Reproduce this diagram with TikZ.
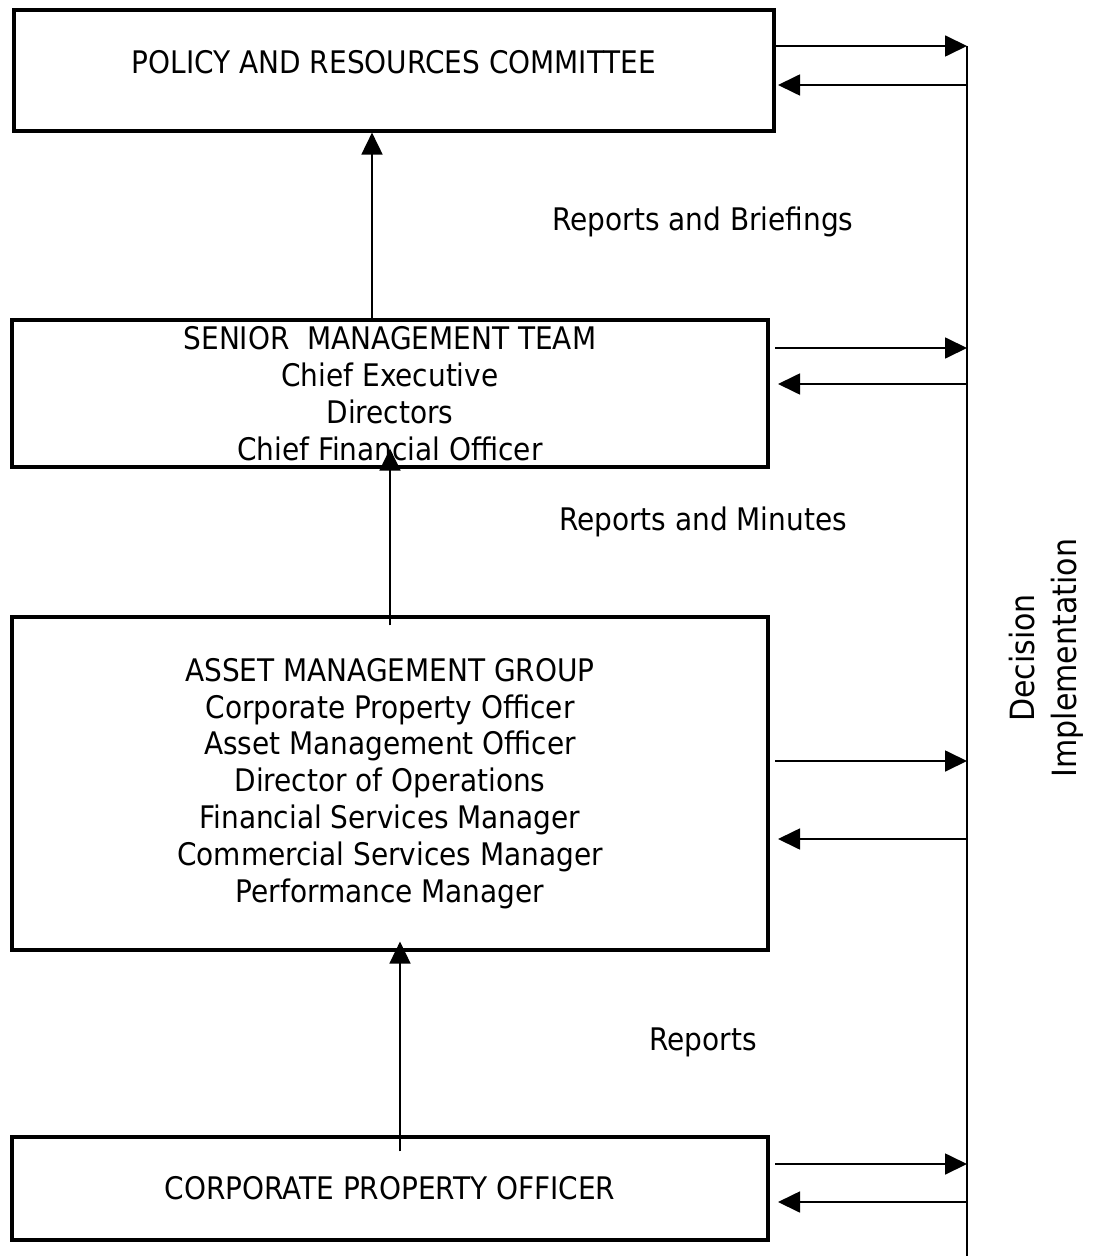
\documentclass[tikz,border=0pt]{standalone}
\usepackage{fontspec}
\setmainfont{DejaVu Sans Condensed}
\usepackage{tikz}
\usetikzlibrary{arrows.meta,positioning}

\tikzset{
  box/.style={draw,line width=1.8pt,align=center,inner sep=0pt},
  arr/.style={line width=1pt,-{Triangle[length=0.44cm,width=0.42cm]}},
  bar/.style={line width=1pt},
  lbl/.style={inner sep=0pt}
}

\begin{document}
\begin{tikzpicture}[x=0.02cm,y=-0.02cm,font=\fontsize{17.7}{21}\selectfont]
  \useasboundingbox (0,0) rectangle (1098,1256);
  % --- Boxes ---
  \node[box,minimum width=760*0.02cm,minimum height=121*0.02cm] (prc) at (394,70.5) {\raisebox{0.36cm}{POLICY AND RESOURCES COMMITTEE}};
  \node[box,minimum width=756*0.02cm,minimum height=147*0.02cm] (smt) at (390,393.5)
    {SENIOR\ \ MANAGEMENT TEAM\\Chief Executive\\Directors\\Chief Financial Officer};
  \node[box,minimum width=756*0.02cm,minimum height=333*0.02cm] (amg) at (390,783.5)
    {ASSET MANAGEMENT GROUP\\Corporate Property Officer\\Asset Management Officer\\Director of Operations\\Financial Services Manager\\Commercial Services Manager\\Performance Manager};
  \node[box,minimum width=756*0.02cm,minimum height=103*0.02cm] (cpo) at (390,1188.5) {CORPORATE PROPERTY OFFICER};
  % --- Reporting line ---
  \draw[arr] (372,0 |- smt.north) -- (372,0 |- prc.south);
  \draw[arr] ([yshift=-0.2cm]390,0 |- amg.north) -- ([yshift=0.4cm]390,0 |- smt.south);
  \draw[arr] ([yshift=-0.32cm]400,0 |- cpo.north) -- ([yshift=0.2cm]400,0 |- amg.south);
  \node[lbl] (rb) at (703,222) {Reports and Briefings};
  \node[lbl] (rm) at (703,522) {Reports and Minutes};
  \node[lbl] (rp) at (703,1042) {Reports};
  % --- Decision bar ---
  \coordinate (b1o) at (967,46);   \coordinate (b1i) at (967,85);
  \coordinate (b2o) at (967,348);  \coordinate (b2i) at (967,384);
  \coordinate (b3o) at (967,761);  \coordinate (b3i) at (967,839);
  \coordinate (b4o) at (967,1164); \coordinate (b4i) at (967,1202);
  \coordinate (bend) at (967,1256);
  \draw[bar] (b1o) -- (bend);
  \draw[arr] (775,0 |- b1o) -- (b1o);
  \draw[arr] (b1i) -- (778,0 |- b1i);
  \draw[arr] (775,0 |- b2o) -- (b2o);
  \draw[arr] (b2i) -- (778,0 |- b2i);
  \draw[arr] (775,0 |- b3o) -- (b3o);
  \draw[arr] (b3i) -- (778,0 |- b3i);
  \draw[arr] (775,0 |- b4o) -- (b4o);
  \draw[arr] (b4i) -- (778,0 |- b4i);
  \node[lbl,rotate=90,align=center,font=\fontsize{19}{24}\selectfont] (dec) at (1046,658) {Decision\\Implementation};
\end{tikzpicture}
\end{document}
